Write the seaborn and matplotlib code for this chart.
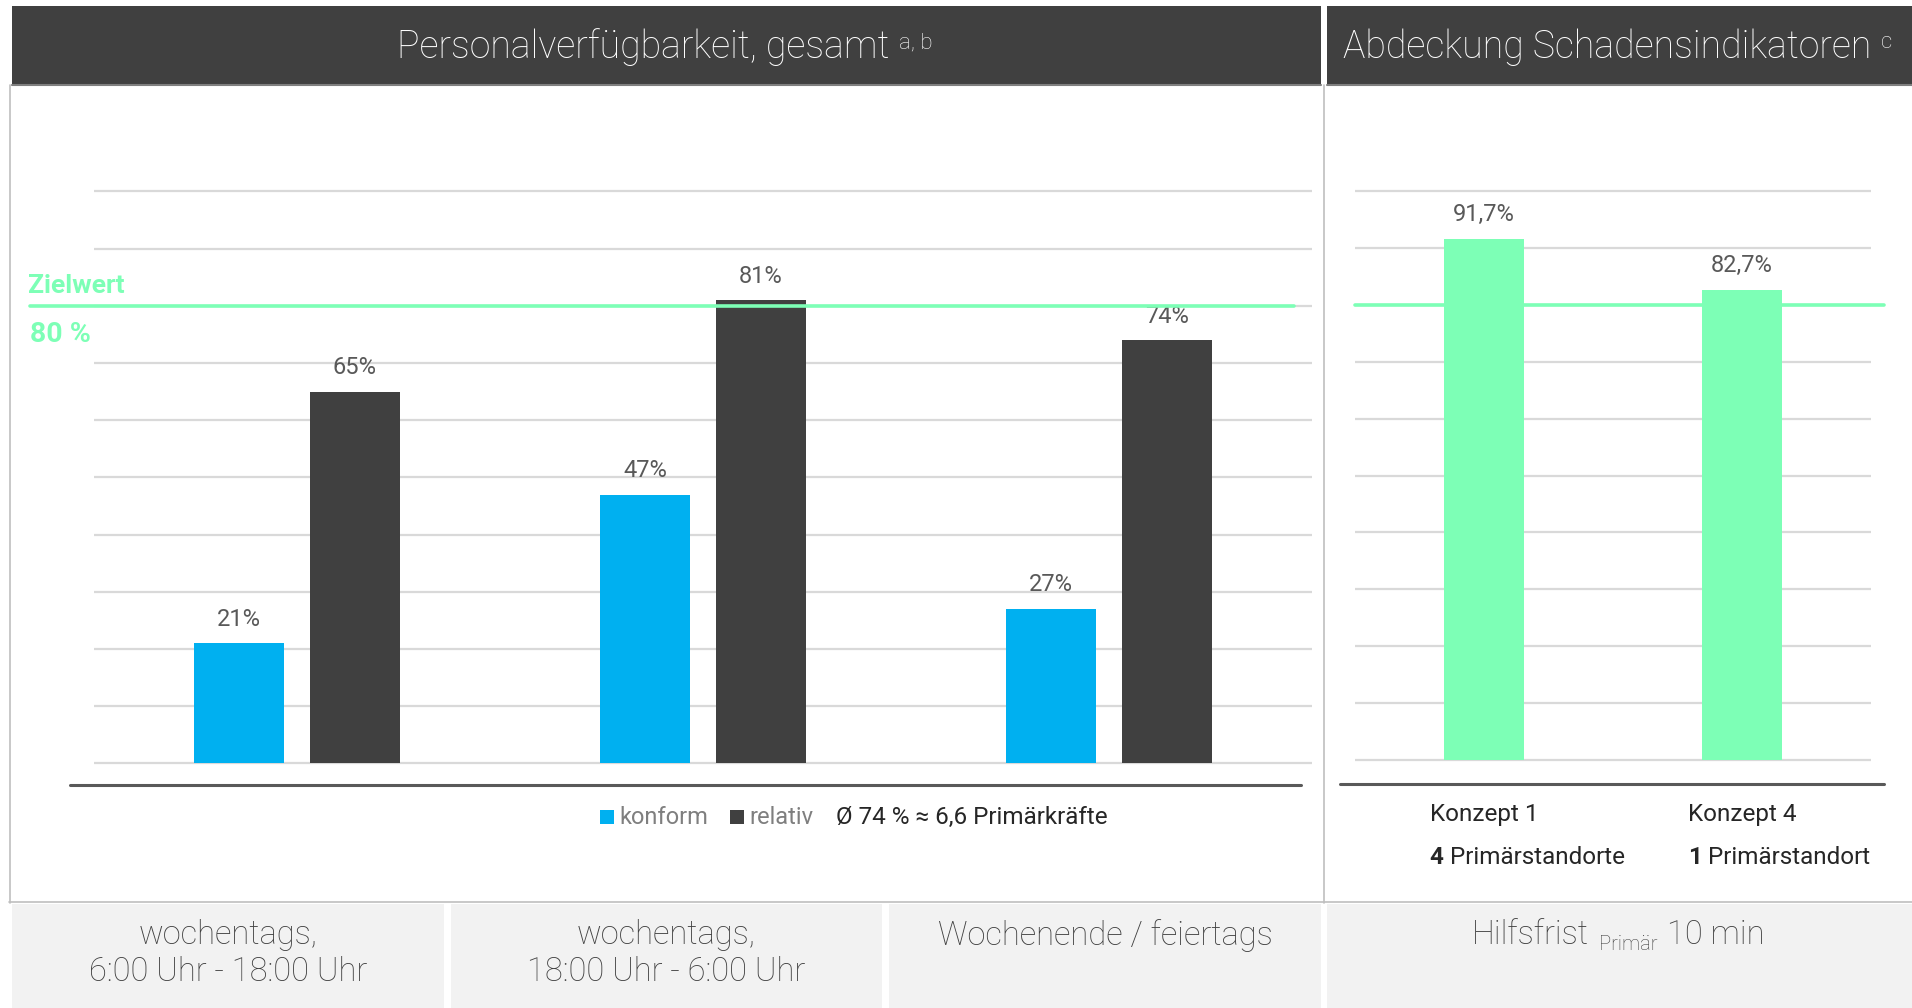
import matplotlib
matplotlib.use("Agg")
import matplotlib.pyplot as plt
import matplotlib.transforms as mtransforms
from matplotlib.patches import Rectangle
from matplotlib.lines import Line2D
from matplotlib.text import Annotation
import seaborn as sns
import pandas as pd

# ---------------- data ----------------
zeitraeume = ["wochentags,\n6:00 Uhr - 18:00 Uhr",
              "wochentags,\n18:00 Uhr - 6:00 Uhr",
              "Wochenende / feiertags"]
serien = ["konform", "relativ"]
konform = [21, 47, 27]
relativ = [65, 81, 74]

konzepte = ["Konzept 1", "Konzept 4"]
standorte_anzahl = ["4", "1"]
standorte_text = ["Primärstandorte", "Primärstandort"]
abdeckung = [91.7, 82.7]

zielwert = 80
titel_links = "Personalverfügbarkeit, gesamt"
fussnote_links = "a, b"
titel_rechts = "Abdeckung Schadensindikatoren"
fussnote_rechts = "c"
durchschnitt_text = "Ø 74 % ≈ 6,6 Primärkräfte"
hilfsfrist_teile = ["Hilfsfrist", "Primär", "10 min"]

# ---------------- style ----------------
BLAU = "#00B0F0"
DUNKEL = "#404040"
GRUEN = "#7DFFB6"
GRID = "#D9D9D9"
RAHMEN = "#BFBFBF"
BOX = "#F2F2F2"
LABEL = "#595959"

sns.set_theme(style="white")
plt.rcParams["font.family"] = ["Roboto", "DejaVu Sans"]

W, H = 1912, 1008
fig = plt.figure(figsize=(W / 100, H / 100), dpi=100)
fig.patch.set_facecolor("white")


def fx(px):
    return px / W


def fy(py):
    return 1 - py / H


def achse(left_px, right_px, y0_px, y100_px, lo=-1, hi=101):
    per = (y0_px - y100_px) / 100.0
    bottom_px = y0_px - lo * per
    top_px = y0_px - hi * per
    ax = fig.add_axes([fx(left_px), fy(bottom_px),
                       (right_px - left_px) / W, (bottom_px - top_px) / H])
    ax.set_ylim(lo, hi)
    return ax


def anschluss(text, ref, xy, off, **kw):
    a = Annotation(text, xy=xy, xycoords=ref, xytext=off,
                   textcoords="offset points", **kw)
    fig.add_artist(a)
    return a


def linie(x0, x1, y0, y1, **kw):
    fig.add_artist(Line2D([fx(x0), fx(x1)], [fy(y0), fy(y1)],
                          transform=fig.transFigure, **kw))


def gitter(ax):
    ax.set_yticks(range(0, 101, 10))
    ax.yaxis.grid(True, color=GRID, lw=1.6)
    ax.xaxis.grid(False)
    ax.set_axisbelow(True)
    ax.tick_params(left=False, bottom=False, labelleft=False, labelbottom=False)
    ax.set_xlabel("")
    ax.set_ylabel("")
    for s in ax.spines.values():
        s.set_visible(False)
    ax.patch.set_alpha(0)


# ---------------- header bands ----------------
for x0, x1 in [(12, 1321), (1327, 1912)]:
    fig.add_artist(Rectangle((fx(x0), fy(85)), fx(x1) - fx(x0), fy(6) - fy(85),
                             transform=fig.transFigure, facecolor=DUNKEL,
                             edgecolor="none", zorder=1))
    linie(x0, x1, 85, 85, color="#7F7F7F", lw=1.5, zorder=2)

t_links = fig.text(fx(643), fy(47), titel_links, ha="center", va="center",
                   color="white", fontsize=27, fontweight="light")
anschluss(fussnote_links, t_links, (1, 1), (7, -3), ha="left", va="top",
          color="white", fontsize=16, fontweight="light")
t_rechts = fig.text(fx(1607), fy(47), titel_rechts, ha="center", va="center",
                    color="white", fontsize=27, fontweight="light")
anschluss(fussnote_rechts, t_rechts, (1, 1), (7, -3), ha="left", va="top",
          color="white", fontsize=16, fontweight="light")

# ---------------- panel frame ----------------
linie(9.5, 9.5, 85, 903, color=RAHMEN, lw=1.2)
linie(1324, 1324, 85, 903, color=RAHMEN, lw=1.2)
linie(9, 1912, 902, 902, color=RAHMEN, lw=1.2)

# ---------------- bottom category boxes ----------------
boxen = [(12, 444), (451, 882), (889, 1321), (1327, 1912)]
for x0, x1 in boxen:
    fig.add_artist(Rectangle((fx(x0), fy(1008)), fx(x1) - fx(x0), fy(904) - fy(1008),
                             transform=fig.transFigure, facecolor=BOX,
                             edgecolor="none", zorder=1))
for (x0, x1), txt in zip(boxen[:3], zeitraeume):
    fig.text(fx((x0 + x1) / 2), fy(919), txt, ha="center", va="top",
             color=DUNKEL, fontsize=23.5, fontweight="light", linespacing=1.2)

t_h1 = fig.text(fx(1589), fy(935), hilfsfrist_teile[0], ha="right", va="center",
                color=DUNKEL, fontsize=23.5, fontweight="light")
t_h2 = anschluss(hilfsfrist_teile[1], t_h1, (1, 0), (7, -2), ha="left", va="bottom",
                 color=DUNKEL, fontsize=14.5, fontweight="light")
anschluss(hilfsfrist_teile[2], t_h2, (1, 0), (7, 2), ha="left", va="bottom",
          color=DUNKEL, fontsize=23.5, fontweight="light")

# ---------------- left chart: staff availability ----------------
axL = achse(94, 1312, 763.4, 191.4)
df = pd.DataFrame({
    "zeitraum": zeitraeume * 2,
    "art": [serien[0]] * len(konform) + [serien[1]] * len(relativ),
    "wert": konform + relativ,
})
sns.barplot(data=df, x="zeitraum", y="wert", hue="art", order=zeitraeume,
            hue_order=serien, palette=[BLAU, DUNKEL], width=0.57, gap=0.22,
            saturation=1, linewidth=0, errorbar=None, legend=False, ax=axL)
axL.set_xlim(-0.5, 2.5)
gitter(axL)
for cont, vals in zip(axL.containers, [konform, relativ]):
    axL.bar_label(cont, labels=[f"{v}%" for v in vals], padding=9,
                  fontsize=17, color=LABEL, fontweight="normal")

axL.axhline(zielwert, xmin=(30 - 94) / 1218, xmax=(1294 - 94) / 1218,
            color=GRUEN, lw=2.6, clip_on=False, zorder=5)
trL = axL.get_yaxis_transform()
axL.annotate("Zielwert", xy=((28 - 94) / 1218, zielwert), xycoords=trL,
             xytext=(0, 14), textcoords="offset points", ha="left", va="center",
             color=GRUEN, fontsize=19, fontweight="bold", annotation_clip=False)
axL.annotate(f"{zielwert} %", xy=((30 - 94) / 1218, zielwert), xycoords=trL,
             xytext=(0, -21), textcoords="offset points", ha="left", va="center",
             color=GRUEN, fontsize=20.5, fontweight="bold", annotation_clip=False)

linie(70, 1301, 785, 785, color="#595959", lw=2.2)

# legend row
for (sx, farbe), (tx, name) in zip([(600, BLAU), (730, DUNKEL)],
                                   [(619, serien[0]), (749, serien[1])]):
    fig.add_artist(Rectangle((fx(sx), fy(824)), fx(13.5), fy(810) - fy(824),
                             transform=fig.transFigure, facecolor=farbe,
                             edgecolor="none"))
    fig.text(fx(tx), fy(817), name, ha="left", va="center", color="#7F7F7F",
             fontsize=17, fontweight="normal")
fig.text(fx(836), fy(817), durchschnitt_text, ha="left", va="center",
         color="#262626", fontsize=17.5, fontweight="normal")

# ---------------- right chart: indicator coverage ----------------
axR = achse(1355, 1871, 759.7, 191.4)
sns.barplot(x=konzepte, y=abdeckung, color=GRUEN, width=0.31, saturation=1,
            linewidth=0, errorbar=None, ax=axR)
axR.set_xlim(-0.5, 1.5)
gitter(axR)
axR.bar_label(axR.containers[0],
              labels=[f"{v:.1f}".replace(".", ",") + "%" for v in abdeckung],
              padding=9, fontsize=17, color=LABEL, fontweight="normal")
axR.axhline(zielwert, xmin=0, xmax=(1884 - 1355) / 516, color=GRUEN, lw=2.6,
            clip_on=False, zorder=5)
linie(1340, 1884, 784, 784, color="#595959", lw=2.2)

trR = mtransforms.blended_transform_factory(axR.transData, fig.transFigure)
for i, (k, n, t) in enumerate(zip(konzepte, standorte_anzahl, standorte_text)):
    tk = axR.text(i, fy(815), k, transform=trR, ha="center", va="center",
                  color="#262626", fontsize=17.5, fontweight="normal")
    tn = anschluss(n, tk, (0, 0), (0, -14), ha="left", va="top",
                   color="#262626", fontsize=17.5, fontweight="bold")
    anschluss(" " + t, tn, (1, 0), (0, 0), ha="left", va="bottom",
              color="#262626", fontsize=17.5, fontweight="normal")

fig.savefig("out.png", dpi=100, facecolor="white")
